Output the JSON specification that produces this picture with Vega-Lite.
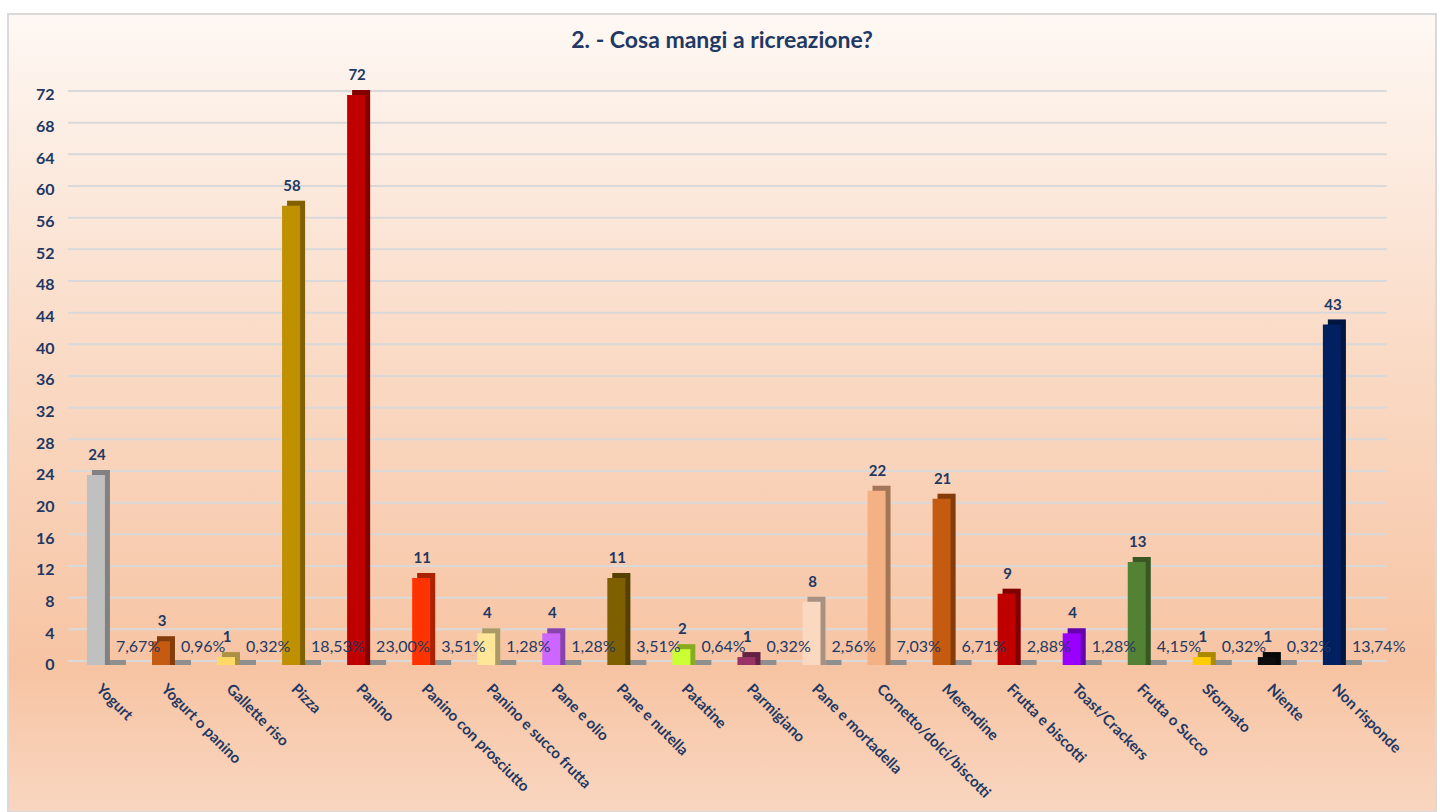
{
  "$schema": "https://vega.github.io/schema/vega-lite/v6.json",
  "autosize": {"type": "none"},
  "width": 1428,
  "height": 798,
  "padding": {"left": 8, "top": 14, "right": 4, "bottom": 0},
  "background": "#FFFFFF",
  "title": {
    "text": "2. - Cosa mangi a ricreazione?",
    "font": "Lato",
    "fontSize": 23,
    "fontWeight": "bold",
    "color": "#1F3864",
    "anchor": "middle",
    "baseline": "alphabetic",
    "offset": 0,
    "dy": 57
  },
  "config": {
    "locale": {"number": {"decimal": ",", "thousands": ".", "grouping": [3], "currency": ["", " €"]}},
    "view": {
      "fill": {
        "gradient": "linear", "x1": 0, "y1": 0, "x2": 0, "y2": 1,
        "stops": [
          {"offset": 0, "color": "#FEF8F4"},
          {"offset": 0.4, "color": "#FADCC8"},
          {"offset": 0.82, "color": "#F7C4A3"},
          {"offset": 1, "color": "#F9D6C0"}
        ]
      },
      "stroke": "#D9D9D9",
      "strokeWidth": 2
    }
  },
  "datasets": {
    "grid": [
      {"v": 0}, {"v": 4}, {"v": 8}, {"v": 12}, {"v": 16}, {"v": 20}, {"v": 24}, {"v": 28}, {"v": 32}, {"v": 36},
      {"v": 40}, {"v": 44}, {"v": 48}, {"v": 52}, {"v": 56}, {"v": 60}, {"v": 64}, {"v": 68}, {"v": 72}
    ],
    "food": [
      {"cat": "Yogurt", "count": 24, "pct": 0.0767},
      {"cat": "Yogurt o panino", "count": 3, "pct": 0.0096},
      {"cat": "Gallette riso", "count": 1, "pct": 0.0032},
      {"cat": "Pizza", "count": 58, "pct": 0.1853},
      {"cat": "Panino", "count": 72, "pct": 0.2300},
      {"cat": "Panino con prosciutto", "count": 11, "pct": 0.0351},
      {"cat": "Panino e succo frutta", "count": 4, "pct": 0.0128},
      {"cat": "Pane e olio", "count": 4, "pct": 0.0128},
      {"cat": "Pane e nutella", "count": 11, "pct": 0.0351},
      {"cat": "Patatine", "count": 2, "pct": 0.0064},
      {"cat": "Parmigiano", "count": 1, "pct": 0.0032},
      {"cat": "Pane e mortadella", "count": 8, "pct": 0.0256},
      {"cat": "Cornetto/dolci/biscotti", "count": 22, "pct": 0.0703},
      {"cat": "Merendine", "count": 21, "pct": 0.0671},
      {"cat": "Frutta e biscotti", "count": 9, "pct": 0.0288},
      {"cat": "Toast/Crackers", "count": 4, "pct": 0.0128},
      {"cat": "Frutta o Succo", "count": 13, "pct": 0.0415},
      {"cat": "Sformato", "count": 1, "pct": 0.0032},
      {"cat": "Niente", "count": 1, "pct": 0.0032},
      {"cat": "Non risponde", "count": 43, "pct": 0.1374}
    ]
  },
  "encoding": {
    "x": {
      "field": "cat",
      "type": "nominal",
      "sort": null,
      "scale": {
        "domain": ["Yogurt", "Yogurt o panino", "Gallette riso", "Pizza", "Panino", "Panino con prosciutto", "Panino e succo frutta", "Pane e olio", "Pane e nutella", "Patatine", "Parmigiano", "Pane e mortadella", "Cornetto/dolci/biscotti", "Merendine", "Frutta e biscotti", "Toast/Crackers", "Frutta o Succo", "Sformato", "Niente", "Non risponde"],
        "paddingInner": 0,
        "paddingOuter": 0.976,
        "align": 0.515
      },
      "axis": {
        "title": null,
        "orient": "bottom",
        "offset": -140,
        "domain": false,
        "ticks": false,
        "labelAngle": 45,
        "labelAlign": "left",
        "labelBaseline": "middle",
        "labelOffset": -7,
        "labelPadding": 14,
        "labelFont": "Lato",
        "labelFontSize": 15,
        "labelFontWeight": "bold",
        "labelColor": "#1F3864",
        "labelLimit": 0,
        "labelOverlap": false
      }
    }
  },
  "layer": [
    {
      "data": {"name": "grid"},
      "mark": {"type": "rule", "color": "#D9D9D9", "strokeWidth": 2, "yOffset": -4},
      "encoding": {
        "x": {"datum": "Yogurt", "type": "nominal", "bandPosition": -0.085},
        "x2": {"datum": "Non risponde", "bandPosition": 1.19},
        "y": {
          "field": "v",
          "type": "quantitative",
          "scale": {"domain": [-18.57, 82.23], "nice": false, "zero": false},
          "axis": {
            "title": null,
            "values": [0, 4, 8, 12, 16, 20, 24, 28, 32, 36, 40, 44, 48, 52, 56, 60, 64, 68, 72],
            "offset": -56,
            "domain": false,
            "ticks": false,
            "grid": false,
            "format": "d",
            "labelPadding": 10,
            "labelFont": "Lato",
            "labelFontSize": 16,
            "labelFontWeight": "bold",
            "labelColor": "#1F3864"
          }
        }
      }
    },
    {
      "data": {"name": "food"},
      "mark": {"type": "tick", "color": "#8F8F8F", "size": 20, "thickness": 5, "xOffset": 10, "yOffset": -2.5, "opacity": 1},
      "encoding": {
        "y": {"datum": 0, "type": "quantitative"}
      }
    },
    {
      "data": {"name": "food"},
      "mark": {"type": "bar", "width": 18, "xOffset": -5, "yOffset": -5},
      "encoding": {
        "y": {"field": "count", "type": "quantitative"},
        "y2": {"datum": 0},
        "color": {
          "field": "cat",
          "type": "nominal",
          "legend": null,
          "scale": {
            "domain": ["Yogurt", "Yogurt o panino", "Gallette riso", "Pizza", "Panino", "Panino con prosciutto", "Panino e succo frutta", "Pane e olio", "Pane e nutella", "Patatine", "Parmigiano", "Pane e mortadella", "Cornetto/dolci/biscotti", "Merendine", "Frutta e biscotti", "Toast/Crackers", "Frutta o Succo", "Sformato", "Niente", "Non risponde"],
            "range": ["#C0C0C0", "#C55A11", "#FFD966", "#BF9000", "#C00000", "#FF3300", "#FFE699", "#CC66FF", "#7F6000", "#CCFF33", "#993366", "#FBD8C0", "#F4B183", "#C55A11", "#C00000", "#9900FF", "#548235", "#FFCC00", "#0D0D0D", "#002060"]
          }
        }
      }
    },
    {
      "data": {"name": "food"},
      "mark": {"type": "bar", "width": 18, "xOffset": -5, "yOffset": -5, "color": "#000000", "opacity": 0.33},
      "encoding": {
        "y": {"field": "count", "type": "quantitative"},
        "y2": {"datum": 0}
      }
    },
    {
      "data": {"name": "food"},
      "mark": {"type": "bar", "width": 18, "xOffset": -10},
      "encoding": {
        "y": {"field": "count", "type": "quantitative"},
        "y2": {"datum": 0},
        "color": {"field": "cat", "type": "nominal", "legend": null}
      }
    },
    {
      "data": {"name": "food"},
      "mark": {"type": "text", "font": "Lato", "fontSize": 15, "fontWeight": "bold", "color": "#1F3864", "baseline": "bottom", "dy": -12, "xOffset": -9},
      "encoding": {
        "y": {"field": "count", "type": "quantitative"},
        "text": {"field": "count", "type": "quantitative", "format": "d"}
      }
    },
    {
      "data": {"name": "food"},
      "mark": {"type": "text", "font": "Lato", "fontSize": 16, "color": "#1F3864", "align": "left", "baseline": "middle", "dy": -18, "xOffset": 10},
      "encoding": {
        "y": {"datum": 0, "type": "quantitative"},
        "text": {"field": "pct", "type": "quantitative", "format": ".2%"}
      }
    }
  ]
}
